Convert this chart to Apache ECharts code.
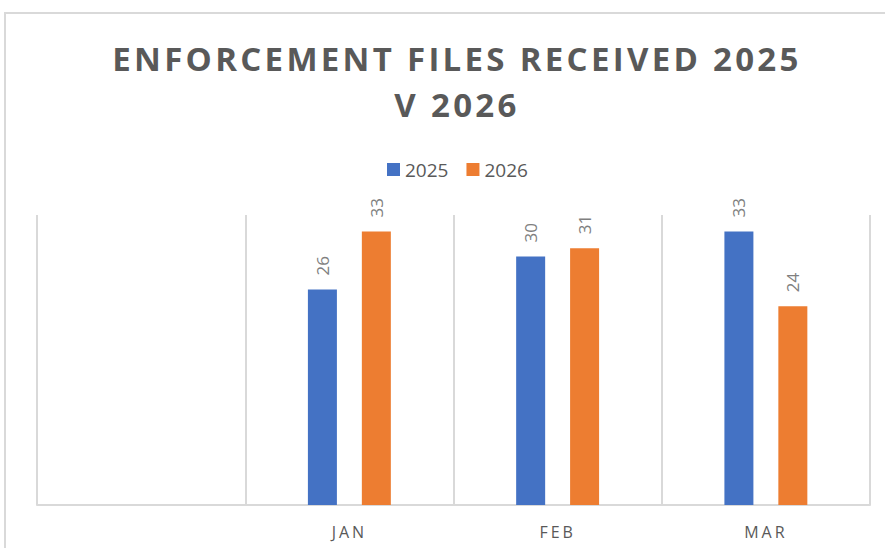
<!DOCTYPE html>
<html>
<head>
<meta charset="utf-8">
<script src="https://cdn.jsdelivr.net/npm/echarts@6/dist/echarts.min.js"></script>
<style>
  html, body { margin: 0; padding: 0; background: #fff; }
  #main { width: 885px; height: 548px; }
</style>
</head>
<body>
<div id="main"></div>
<script>
var months = ['', 'JAN', 'FEB', 'MAR'];
var files2025 = [null, 26, 30, 33];
var files2026 = [null, 33, 31, 24];

var chart = echarts.init(document.getElementById('main'), null, { renderer: 'svg' });

var labelOpt = {
    show: true,
    position: 'top',
    rotate: 90,
    align: 'left',
    verticalAlign: 'middle',
    distance: 14,
    color: '#7f7f7f',
    fontSize: 17,
    fontFamily: 'Open Sans'
};

var option = {
    backgroundColor: '#fff',
    animation: false,
    title: {
        text: 'ENFORCEMENT FILES RECEIVED 2025\nV 2026',
        left: 452,
        textAlign: 'center',
        top: 30,
        textStyle: {
            color: '#595959',
            fontSize: 33,
            fontWeight: 'bold',
            fontFamily: 'Open Sans',
            lineHeight: 46
        }
    },
    legend: {
        top: 155,
        left: 382,
        itemWidth: 13,
        itemHeight: 13,
        itemGap: 18,
        icon: 'rect',
        textStyle: { color: '#595959', fontSize: 19, fontFamily: 'Open Sans' },
        data: ['2025', '2026']
    },
    graphic: [{
        type: 'polyline',
        shape: { points: [[5, 548], [5, 13], [885, 13]] },
        style: { stroke: '#d9d9d9', lineWidth: 2, fill: null }
    }],
    grid: { left: 37, right: 15, top: 215, bottom: 43 },
    xAxis: {
        type: 'category',
        data: months,
        axisLine: { lineStyle: { color: '#d9d9d9', width: 2 } },
        axisTick: { show: false },
        splitLine: { show: true, lineStyle: { color: '#d9d9d9', width: 2 } },
        axisLabel: { color: '#595959', fontSize: 16, fontFamily: 'Open Sans', margin: 19 }
    },
    yAxis: {
        type: 'value',
        min: 0,
        max: 35,
        show: false,
        splitLine: { show: false }
    },
    series: [{
        name: '2025',
        type: 'bar',
        data: files2025,
        barWidth: 29,
        barGap: '86%',
        itemStyle: { color: '#4472c4' },
        label: labelOpt
    }, {
        name: '2026',
        type: 'bar',
        data: files2026,
        barWidth: 29,
        itemStyle: { color: '#ed7d31' },
        label: labelOpt
    }]
};

chart.setOption(option);

// spread the letters of the title and month labels like the original
var spacing = { 'ENFORCEMENT FILES RECEIVED 2025': '3.3px', 'V 2026': '3.3px', 'JAN': '3px', 'FEB': '3px', 'MAR': '3px' };
var texts = document.querySelectorAll('#main text');
for (var i = 0; i < texts.length; i++) {
    var s = spacing[texts[i].textContent];
    if (s) texts[i].setAttribute('letter-spacing', s);
}
</script>
</body>
</html>
